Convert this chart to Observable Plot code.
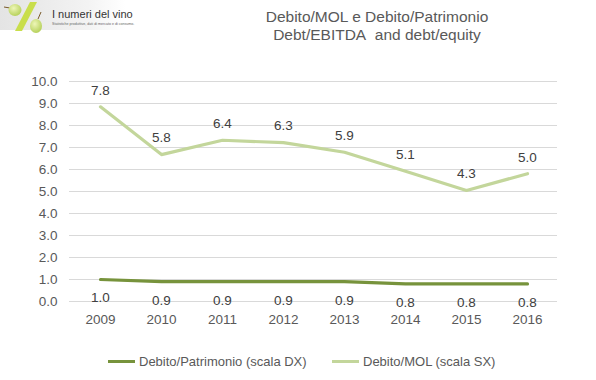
<!DOCTYPE html>
<html>
<head>
<meta charset="utf-8">
<script src="https://cdn.jsdelivr.net/npm/d3@7"></script>
<script src="https://cdn.jsdelivr.net/npm/@observablehq/plot@0.6"></script>
<style>
  html, body { margin: 0; padding: 0; background: #fff; }
  #wrap { position: relative; width: 596px; height: 380px; font-family: "Liberation Sans", Arial, sans-serif; color: #595959; }
  #chart { position: absolute; left: 0; top: 0; }
  #title { position: absolute; top: 8px; left: 177px; width: 400px; text-align: center; font-size: 15.5px; line-height: 18px; color: #595959; }
  .leg { position: absolute; top: 352px; height: 18px; display: flex; align-items: center; font-size: 13px; color: #595959; white-space: nowrap; }
  .sw { width: 27px; height: 3px; margin-right: 4px; }
  #logo { position: absolute; left: 0; top: 0; overflow: visible; }
</style>
</head>
<body>
<div id="wrap">
  <div id="chart"></div>
  <svg id="logo" width="200" height="34" viewBox="0 0 200 34">
    <defs>
      <linearGradient id="bg" x1="0" y1="0" x2="1" y2="0">
        <stop offset="0" stop-color="#e4e4e4"/>
        <stop offset="0.7" stop-color="#f3f3f3"/>
        <stop offset="1" stop-color="#ffffff"/>
      </linearGradient>
      <radialGradient id="grape" cx="0.4" cy="0.35" r="0.7">
        <stop offset="0" stop-color="#eef6b8"/>
        <stop offset="1" stop-color="#b3cf55"/>
      </radialGradient>
    </defs>
    <rect x="0" y="0" width="125" height="30" fill="url(#bg)"/>
    <polygon points="30,2 37,2 22,31 15,31" fill="#c9de4c"/>
    <line x1="4" y1="7" x2="10" y2="8" stroke="#7a5a2a" stroke-width="1"/>
    <ellipse cx="15" cy="10" rx="6.5" ry="6" fill="url(#grape)"/>
    <line x1="41" y1="12" x2="38" y2="19" stroke="#7a5a2a" stroke-width="1"/>
    <ellipse cx="36" cy="26" rx="6" ry="7" fill="url(#grape)"/>
    <text x="52" y="18" font-size="11" fill="#333" font-family="Liberation Sans Narrow, Liberation Sans, Arial">I numeri del vino</text>
    <text x="52" y="25" font-size="3.6" fill="#666">Statistiche produttive, dati di mercato e di consumo.</text>
  </svg>
  <div id="title">Debito/MOL e Debito/Patrimonio<br>Debt/EBITDA&nbsp; and debt/equity</div>
  <div class="leg" style="left:108px"><div class="sw" style="background:#77933c"></div>Debito/Patrimonio (scala DX)</div>
  <div class="leg" style="left:332px"><div class="sw" style="background:#c3d69b"></div>Debito/MOL (scala SX)</div>
</div>
<script>
// ---- data ----
const years = ["2009", "2010", "2011", "2012", "2013", "2014", "2015", "2016"];
const debitoMol = [7.8, 5.8, 6.4, 6.3, 5.9, 5.1, 4.3, 5.0];
const debitoPatrimonio = [1.0, 0.9, 0.9, 0.9, 0.9, 0.8, 0.8, 0.8];
const yTicks = [0, 1, 2, 3, 4, 5, 6, 7, 8, 9, 10];
// hidden secondary scale on which the Debito/MOL line is drawn
const molScaleDomain = [-0.35, 8.86];

const rows = years.map((year, i) => ({ year, mol: debitoMol[i], pat: debitoPatrimonio[i] }));
const molToLeft = v => (v - molScaleDomain[0]) / (molScaleDomain[1] - molScaleDomain[0]) * 10;

const plot = Plot.plot({
  width: 596,
  height: 380,
  marginTop: 81,
  marginBottom: 79,
  marginLeft: 69,
  marginRight: 39,
  style: { fontFamily: "Liberation Sans, Arial, sans-serif", fontSize: "13.5px", color: "#595959", background: "transparent" },
  x: { type: "point", domain: years, padding: 0.5 },
  y: { domain: [0, 10] },
  marks: [
    Plot.gridY(yTicks, { stroke: "#d9d9d9", strokeOpacity: 1, strokeWidth: 1 }),
    Plot.axisY(yTicks, { tickSize: 0, tickPadding: 12, tickFormat: d => d.toFixed(1), label: null, fontSize: 13.5 }),
    Plot.axisX({ tickSize: 0, tickPadding: 13, label: null, fontSize: 13.5 }),
    Plot.lineY(rows, { x: "year", y: "pat", stroke: "#77933c", strokeWidth: 3.2, strokeLinejoin: "round" }),
    Plot.lineY(rows, { x: "year", y: d => molToLeft(d.mol), stroke: "#c3d69b", strokeWidth: 3.2, strokeLinejoin: "round" }),
    Plot.text(rows, { x: "year", y: d => molToLeft(d.mol), text: d => d.mol.toFixed(1), dy: -16.5, fill: "#404040", fontSize: 13.5 }),
    Plot.text(rows, { x: "year", y: "pat", text: d => d.pat.toFixed(1), dy: 18.5, fill: "#404040", fontSize: 13.5 })
  ]
});
document.getElementById("chart").appendChild(plot);
</script>
</body>
</html>
